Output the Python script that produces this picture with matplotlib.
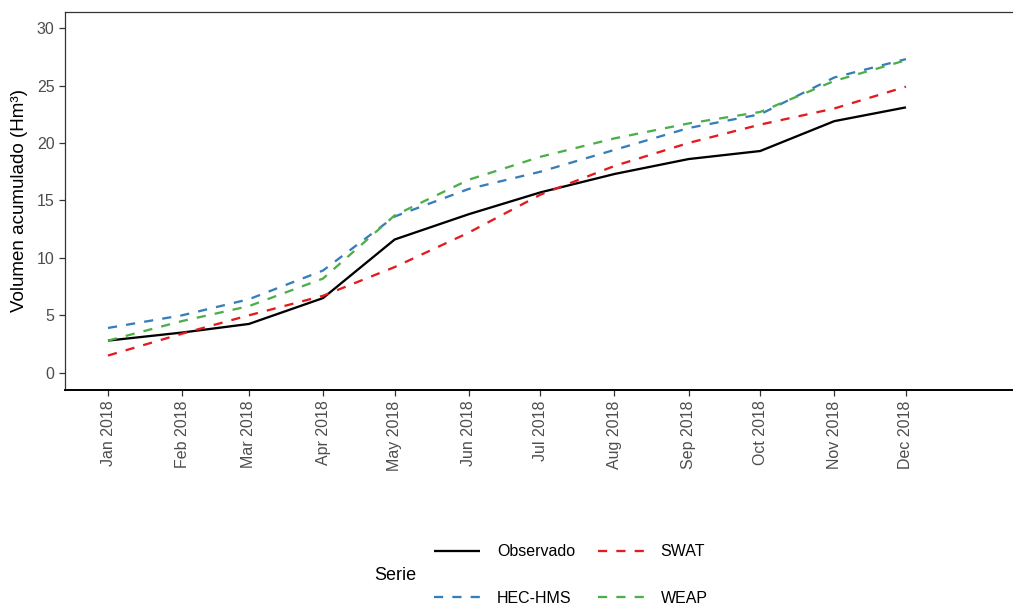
import matplotlib
matplotlib.use("Agg")
import matplotlib.pyplot as plt
import matplotlib.dates as mdates
import numpy as np
import datetime as dt

plt.rcParams['font.family'] = ['Liberation Sans', 'DejaVu Sans']

months = [dt.date(2018, m, 1) for m in range(1, 13)]
tick_labels = ["Jan 2018", "Feb 2018", "Mar 2018", "Apr 2018", "May 2018", "Jun 2018",
               "Jul 2018", "Aug 2018", "Sep 2018", "Oct 2018", "Nov 2018", "Dec 2018"]

observado = [2.8, 3.5, 4.25, 6.5, 11.6, 13.8, 15.7, 17.3, 18.6, 19.3, 21.9, 23.1]
swat      = [1.5, 3.4, 5.0, 6.7, 9.2, 12.2, 15.5, 18.0, 20.0, 21.6, 23.0, 24.9]
hec_hms   = [3.9, 5.0, 6.4, 8.9, 13.6, 16.0, 17.5, 19.4, 21.3, 22.5, 25.7, 27.3]
weap      = [2.8, 4.5, 5.8, 8.2, 13.7, 16.8, 18.8, 20.4, 21.7, 22.7, 25.4, 27.2]

series_names = ["Observado", "SWAT", "HEC-HMS", "WEAP"]
series_vals = [observado, swat, hec_hms, weap]
colors = ["#000000", "#E41A1C", "#377EB8", "#4DAF4A"]
dashed = [False, True, True, True]

W, H = 1013, 609
fig = plt.figure(figsize=(W / 100, H / 100), dpi=100)
left, right, top, bottom = 65, 1023, 12, 390
ax = fig.add_axes([left / W, 1 - bottom / H, (right - left) / W, (bottom - top) / H])

handles = {}
for name, vals, c, d in zip(series_names, series_vals, colors, dashed):
    if d:
        ln, = ax.plot(months, vals, color=c, lw=1.65, dashes=(4, 4))
    else:
        ln, = ax.plot(months, vals, color=c, lw=1.65, solid_capstyle='butt')
    handles[name] = ln

ax.set_xlim(mdates.date2num(dt.date(2017, 12, 14)), mdates.date2num(dt.date(2019, 1, 19)))
ax.set_ylim(-1.5, 31.4)
ax.set_yticks([0, 5, 10, 15, 20, 25, 30])
ax.set_xticks(months)
ax.set_xticklabels(tick_labels, rotation=90, va='top', ha='center')
ax.tick_params(axis='both', colors='#333333', labelcolor='#4D4D4D', labelsize=11.5,
               length=4, width=0.9, direction='out', pad=3.5)
for s in ax.spines.values():
    s.set_color('#333333')
    s.set_linewidth(0.9)
ax.spines['bottom'].set_linewidth(1.4)
ax.spines['bottom'].set_color('#000000')
ax.set_ylabel("Volumen acumulado (Hm³)", fontsize=13.5, color='#000000', labelpad=6)

# matplotlib fills legend columns first: arrange so rows read Observado/SWAT, HEC-HMS/WEAP
order = ["Observado", "HEC-HMS", "SWAT", "WEAP"]
fig.legend([handles[n] for n in order], order, ncol=2, loc='center left',
           bbox_to_anchor=(434 / W, 1 - 575 / H), frameon=False, fontsize=11.5,
           handlelength=2.9, handletextpad=1.05, columnspacing=1.4,
           labelspacing=1.95, borderpad=0, borderaxespad=0)
fig.text(374 / W, 1 - 576 / H, "Serie", fontsize=13, va='center', ha='left')

fig.savefig("out.png", dpi=100)
